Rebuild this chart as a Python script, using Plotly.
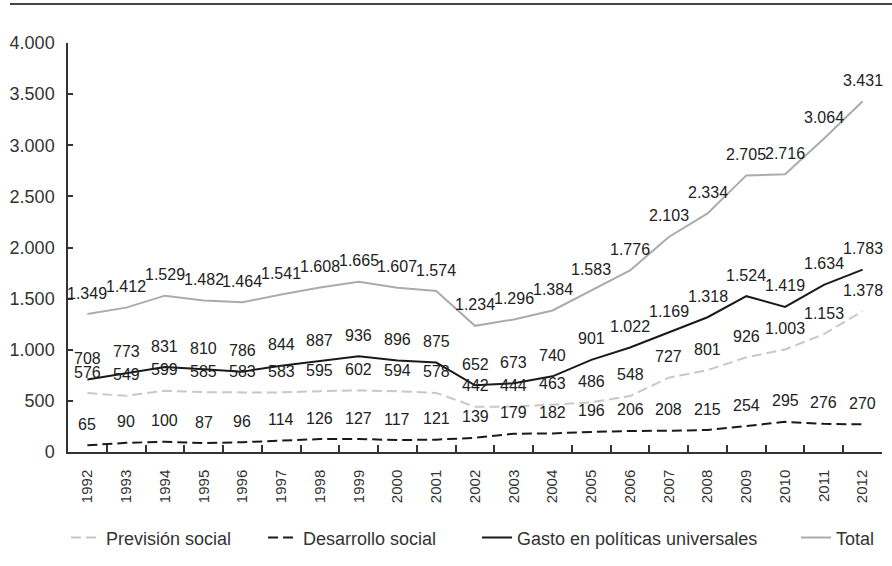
import plotly.graph_objects as go

years = [str(y) for y in range(1992, 2013)]
prevision = [576, 549, 599, 585, 583, 583, 595, 602, 594, 578, 442, 444, 463, 486, 548, 727, 801, 926, 1003, 1153, 1378]
desarrollo = [65, 90, 100, 87, 96, 114, 126, 127, 117, 121, 139, 179, 182, 196, 206, 208, 215, 254, 295, 276, 270]
gasto = [708, 773, 831, 810, 786, 844, 887, 936, 896, 875, 652, 673, 740, 901, 1022, 1169, 1318, 1524, 1419, 1634, 1783]
total = [1349, 1412, 1529, 1482, 1464, 1541, 1608, 1665, 1607, 1574, 1234, 1296, 1384, 1583, 1776, 2103, 2334, 2705, 2716, 3064, 3431]
y_ticks = [0, 500, 1000, 1500, 2000, 2500, 3000, 3500, 4000]

series = [
    ("Previsión social", prevision, dict(color="#c8c8c8", width=2, dash="10px,5px"), "legend", -0.0024),
    ("Desarrollo social", desarrollo, dict(color="#1a1a1a", width=2, dash="10px,5px"), "legend2", 0.2367),
    ("Gasto en políticas universales", gasto, dict(color="#1a1a1a", width=2), "legend3", 0.4964),
    ("Total", total, dict(color="#ababab", width=2), "legend4", 0.8835),
]


def fmt(v):
    return f"{v:,}".replace(",", ".")


fig = go.Figure()
annotations = []
legends = {}
for name, vals, line, lg, lx in series:
    fig.add_trace(go.Scatter(x=years, y=vals, mode="lines", name=name, line=line, legend=lg))
    legends[lg] = dict(
        orientation="h", x=lx, xanchor="left", y=-0.21, yanchor="middle",
        font=dict(family="Liberation Sans", size=18, color="#333333"),
        bgcolor="rgba(0,0,0,0)", itemwidth=30,
    )
    for i, v in enumerate(vals):
        annotations.append(dict(
            x=i, y=v, xref="x", yref="y", text=fmt(v), showarrow=False,
            yanchor="middle", yshift=21,
            font=dict(family="Liberation Sans", size=16, color="#222222"),
        ))

fig.update_layout(
    width=892, height=566,
    margin=dict(l=68, r=0, t=43, b=114),
    paper_bgcolor="white", plot_bgcolor="white",
    separators=",.",
    showlegend=True,
    annotations=annotations,
    shapes=[dict(type="line", xref="paper", yref="paper",
                 x0=-0.0704, x1=1.0, y0=1.0954, y1=1.0954,
                 line=dict(color="#444444", width=2))],
    **legends,
)

fig.update_xaxes(
    type="category", range=[-0.5, 20.5], domain=[0, 814 / 824],
    showline=True, linecolor="#333333", linewidth=1.5,
    ticks="inside", ticklen=7, tickcolor="#333333", tickwidth=1.5,
    tickson="boundaries", tickangle=-90,
    tickfont=dict(family="Liberation Sans", size=15, color="#333333"),
    ticklabelstandoff=10,
    showgrid=False, zeroline=False,
)
fig.update_yaxes(
    range=[0, 4000], tickvals=y_ticks, tickformat=",d",
    showline=True, linecolor="#333333", linewidth=1.5,
    ticks="inside", ticklen=5, tickcolor="#333333", tickwidth=1.5,
    tickfont=dict(family="Liberation Sans", size=18, color="#333333"),
    ticklabelstandoff=8,
    showgrid=False, zeroline=False,
)

fig.write_html("out.html", config={"displayModeBar": False},
               post_script="document.body.style.margin='0';")
